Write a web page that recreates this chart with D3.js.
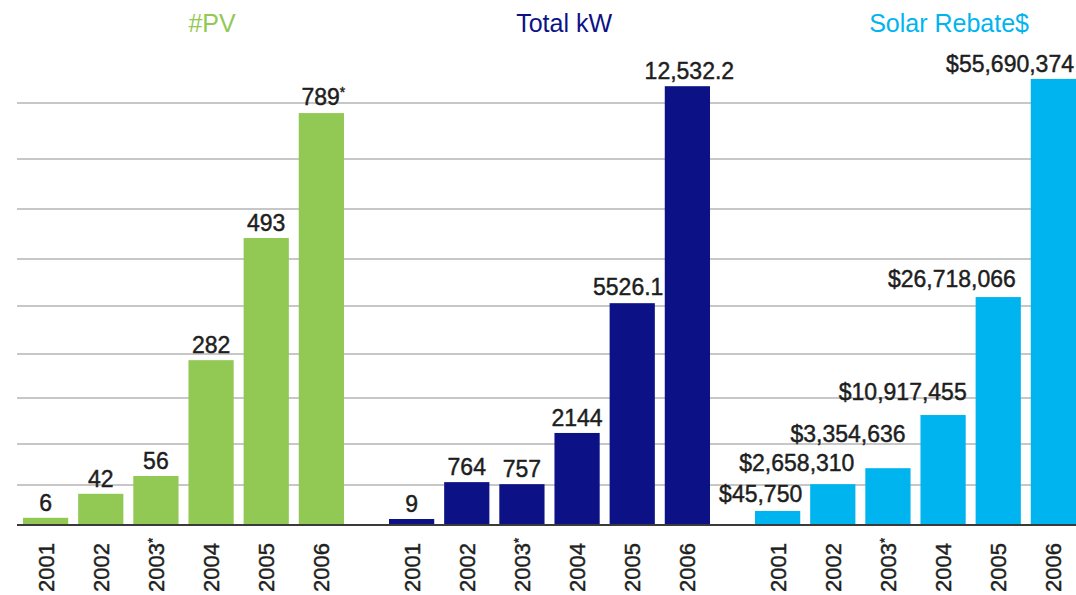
<!DOCTYPE html>
<html>
<head>
<meta charset="utf-8">
<script src="https://cdn.jsdelivr.net/npm/d3@7"></script>
<style>
    body { margin: 0; background: #fff; }
    text { font-family: "Liberation Sans", Arial, Helvetica, sans-serif; }
    .val, .year { stroke: #1e1e1e; stroke-width: 0.45; }
</style>
</head>
<body>
<div id="chart"></div>
<script>
// Data
// ----
const years = ["2001", "2002", "2003*", "2004", "2005", "2006"];
const panels = ["#PV", "Total kW", "Solar Rebate$"];

// printed labels above the bars
const pvLabels = ["6", "42", "56", "282", "493", "789*"];
const kwLabels = ["9", "764", "757", "2144", "5526.1", "12,532.2"];
const rebateLabels = ["$45,750", "$2,658,310", "$3,354,636", "$10,917,455", "$26,718,066", "$55,690,374"];

// bar heights as drawn, in gridline units (the picture is not to label scale)
const pvHeights = [0.18, 0.78, 1.22, 3.86, 6.42, 8.82];
const kwHeights = [0.15, 1.07, 1.02, 2.24, 5.06, 9.30];
const rebateHeights = [0.35, 1.02, 1.41, 2.63, 5.19, 9.43];

const gridLevels = [1, 2, 3, 4, 5, 6, 7, 8, 9];

// Panel look (label nudges are hand placements in the source)
const panelStyle = [
    { color: "#92c955", labels: pvLabels, heights: pvHeights, anchor: "middle",
      titleDx: 1, lift: [7, 7, 7, 7, 7, 8], dx: [0, 0, 0, 0, 0, 2] },
    { color: "#0c1286", labels: kwLabels, heights: kwHeights, anchor: "middle",
      titleDx: -13, lift: [7, 7, 7, 7, 8, 7], dx: [0, 0, 0, 0, -4, 2] },
    { color: "#00b5ef", labels: rebateLabels, heights: rebateHeights, anchor: "end",
      titleDx: 6, lift: [9, 13, 26, 15, 10, 7], dx: [2, -1, -5, 1, -5, -2] }
];

const width = 1076, height = 595;

const svg = d3.select("#chart").append("svg")
    .attr("width", width)
    .attr("height", height);

// Scales
const x0 = d3.scaleBand()
    .domain(panels)
    .range([23, 1076])
    .paddingInner(0.123);

const x1 = d3.scaleBand()
    .domain(years)
    .range([0, x0.bandwidth()])
    .paddingInner(0.18);

// gridlines in the source are not evenly spaced, so map unit levels piecewise
const y = d3.scaleLinear()
    .domain([0, 1, 2, 3, 4, 5, 6, 7, 8, 9, 10])
    .range([525, 485, 444, 398, 354, 306, 259, 209, 159, 103, 47]);

// Gridlines
svg.append("g")
    .selectAll("line")
    .data(gridLevels)
    .join("line")
    .attr("x1", 17)
    .attr("x2", width)
    .attr("y1", d => y(d))
    .attr("y2", d => y(d))
    .attr("stroke", "#b4b4b4")
    .attr("stroke-width", 1.6);

// helper: write a label, putting a trailing "*" as a small raised mark
function writeLabel(sel, str) {
    const star = str.endsWith("*");
    sel.append("tspan").text(star ? str.slice(0, -1) : str);
    if (star) {
        sel.append("tspan")
            .attr("font-size", "60%")
            .attr("dy", "-0.55em")
            .text("*");
    }
}

panels.forEach((name, i) => {
    const st = panelStyle[i];
    const g = svg.append("g")
        .attr("transform", `translate(${x0(name)},0)`);

    // Title
    g.append("text")
        .attr("x", x1("2004") + x1.bandwidth() / 2 + st.titleDx)
        .attr("y", 32)
        .attr("text-anchor", "middle")
        .attr("font-size", 25)
        .attr("fill", st.color)
        .text(name);

    // Bars
    g.selectAll("rect")
        .data(years)
        .join("rect")
        .attr("x", d => x1(d))
        .attr("width", x1.bandwidth())
        .attr("y", (d, j) => y(st.heights[j]))
        .attr("height", (d, j) => y(0) - y(st.heights[j]))
        .attr("fill", st.color);

    // Value labels
    g.selectAll("text.val")
        .data(years)
        .join("text")
        .attr("class", "val")
        .attr("x", (d, j) => (st.anchor == "end" ? x1(d) + x1.bandwidth() : x1(d) + x1.bandwidth() / 2) + st.dx[j])
        .attr("y", (d, j) => y(st.heights[j]) - st.lift[j])
        .attr("text-anchor", st.anchor)
        .attr("font-size", 23)
        .attr("fill", "#1e1e1e")
        .each(function (d, j) { writeLabel(d3.select(this), st.labels[j]); });

    // Year labels, rotated
    g.selectAll("text.year")
        .data(years)
        .join("text")
        .attr("class", "year")
        .attr("transform", d => `translate(${x1(d) + x1.bandwidth() / 2},${y(0) + 67}) rotate(-90)`)
        .attr("dy", "0.36em")
        .attr("text-anchor", "start")
        .attr("font-size", 22)
        .attr("fill", "#1e1e1e")
        .each(function (d) { writeLabel(d3.select(this), d); });
});

// Baseline
svg.append("line")
    .attr("x1", 17)
    .attr("x2", width)
    .attr("y1", y(0))
    .attr("y2", y(0))
    .attr("stroke", "#3a3a3a")
    .attr("stroke-width", 2);
</script>
</body>
</html>
